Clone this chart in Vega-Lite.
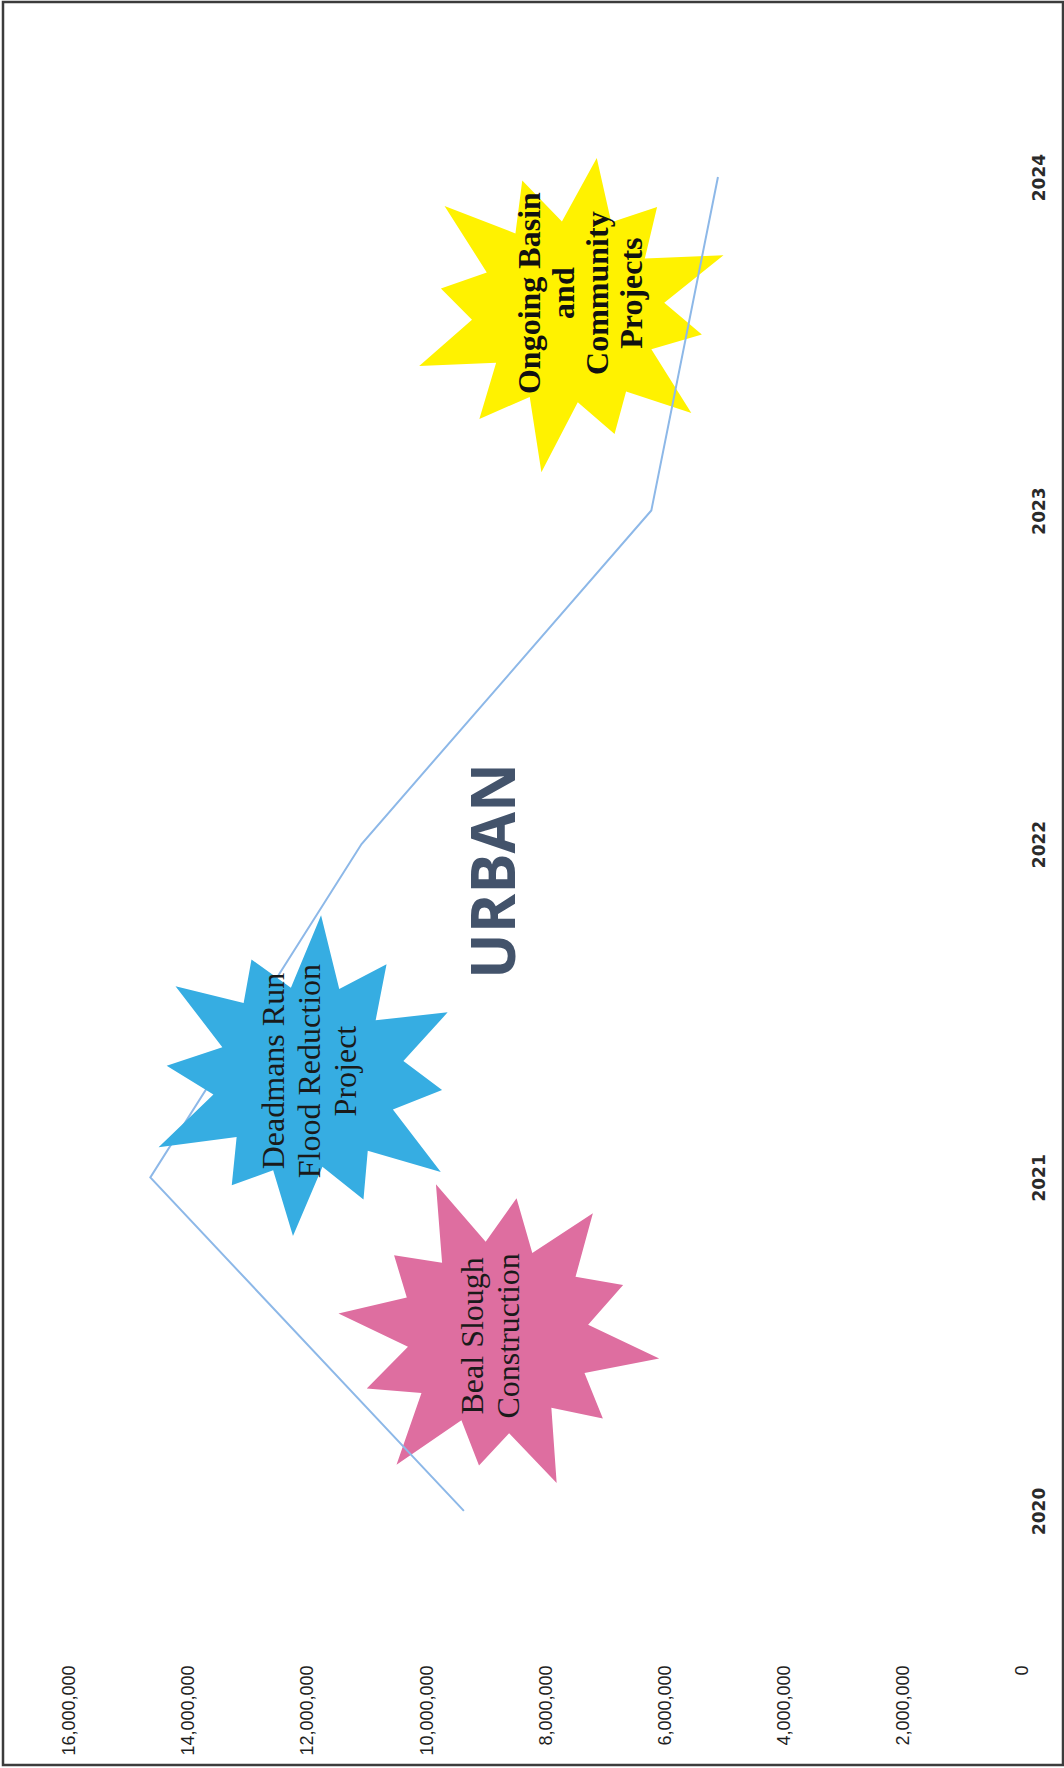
{
  "$schema": "https://vega.github.io/schema/vega-lite/v6.json",
  "width": 1060,
  "height": 1763,
  "padding": {"left": 3, "top": 2, "right": 1, "bottom": 3},
  "background": "white",
  "config": {"view": {"stroke": "#3c3c3c", "strokeWidth": 2.5}},
  "datasets": {
    "line": [
      {"year": 2020, "value": 9380000},
      {"year": 2021, "value": 14650000},
      {"year": 2022, "value": 11100000},
      {"year": 2023, "value": 6230000},
      {"year": 2024, "value": 5110000}
    ],
    "stars": [
      {"star": "Beal Slough", "value": 8820000, "year": 2020.525},
      {"star": "Deadmans Run", "value": 12020000, "year": 2021.298},
      {"star": "Ongoing", "value": 7600000, "year": 2023.598}
    ],
    "notes": [
      {"star": "Beal Slough", "text": "Beal Slough\nConstruction", "value": 9230000, "year": 2020.525},
      {"star": "Deadmans Run", "text": "Deadmans Run\nFlood Reduction\nProject", "value": 12570000, "year": 2021.319},
      {"star": "Ongoing", "text": "Ongoing Basin\nand\nCommunity\nProjects", "value": 8270000, "year": 2023.652}
    ],
    "title": [
      {"text": "URBAN", "value": 8820000, "year": 2021.919}
    ]
  },
  "encoding": {
    "x": {
      "field": "value",
      "type": "quantitative",
      "scale": {"domain": [-689000, 17126000], "reverse": true, "nice": false, "zero": false},
      "axis": {
        "orient": "bottom",
        "values": [0, 2000000, 4000000, 6000000, 8000000, 10000000, 12000000, 14000000, 16000000],
        "format": ",.0f",
        "labelAngle": -90,
        "labelAlign": "right",
        "labelBaseline": "middle",
        "labelPadding": 0,
        "offset": -100,
        "ticks": false,
        "tickSize": 0,
        "domain": false,
        "grid": false,
        "title": null,
        "labelFont": "Liberation Sans",
        "labelFontSize": 18,
        "labelColor": "#1e1e1e",
        "labelFlush": false,
        "labelOverlap": false,
        "labelBound": false
      }
    },
    "y": {
      "field": "year",
      "type": "quantitative",
      "scale": {"domain": [2019.238, 2024.525], "nice": false, "zero": false},
      "axis": {
        "orient": "right",
        "values": [2020, 2021, 2022, 2023, 2024],
        "format": "d",
        "labelAngle": -90,
        "labelAlign": "center",
        "labelBaseline": "middle",
        "labelPadding": 0,
        "offset": -24,
        "ticks": false,
        "tickSize": 0,
        "domain": false,
        "grid": false,
        "title": null,
        "labelFont": "DejaVu Sans",
        "labelFontWeight": "bold",
        "labelFontSize": 17,
        "labelColor": "#2a2a2a",
        "labelFlush": false,
        "labelOverlap": false,
        "labelBound": false
      }
    }
  },
  "layer": [
    {
      "data": {"name": "stars"},
      "transform": [{"filter": {"field": "star", "equal": "Beal Slough"}}],
      "mark": {"type": "point", "shape": "M1,0L0.56,0.15L0.71,0.41L0.389,0.389L0.485,0.84L0.155,0.58L0,0.8L-0.145,0.541L-0.5,0.866L-0.41,0.41L-0.745,0.43L-0.531,0.142L-0.98,0L-0.58,-0.155L-0.693,-0.4L-0.396,-0.396L-0.5,-0.866L-0.15,-0.56L0,-0.85L0.142,-0.531L0.475,-0.823L0.424,-0.424L0.719,-0.415L0.541,-0.145Z", "filled": true, "color": "#DE6EA0", "opacity": 1, "strokeWidth": 0, "size": 107000, "angle": 8}
    },
    {
      "data": {"name": "stars"},
      "transform": [{"filter": {"field": "star", "equal": "Ongoing"}}],
      "mark": {"type": "point", "shape": "M1,0L0.56,0.15L0.71,0.41L0.389,0.389L0.485,0.84L0.155,0.58L0,0.8L-0.145,0.541L-0.5,0.866L-0.41,0.41L-0.745,0.43L-0.531,0.142L-0.98,0L-0.58,-0.155L-0.693,-0.4L-0.396,-0.396L-0.5,-0.866L-0.15,-0.56L0,-0.85L0.142,-0.531L0.475,-0.823L0.424,-0.424L0.719,-0.415L0.541,-0.145Z", "filled": true, "color": "#FFF200", "opacity": 1, "strokeWidth": 0, "size": 107000, "angle": -20}
    },
    {
      "data": {"name": "line"},
      "mark": {"type": "line", "color": "#8DB8E8", "strokeWidth": 2},
      "encoding": {"order": {"field": "year", "type": "quantitative"}}
    },
    {
      "data": {"name": "stars"},
      "transform": [{"filter": {"field": "star", "equal": "Deadmans Run"}}],
      "mark": {"type": "point", "shape": "M1,0L0.56,0.15L0.71,0.41L0.389,0.389L0.485,0.84L0.155,0.58L0,0.8L-0.145,0.541L-0.5,0.866L-0.41,0.41L-0.745,0.43L-0.531,0.142L-0.98,0L-0.58,-0.155L-0.693,-0.4L-0.396,-0.396L-0.5,-0.866L-0.15,-0.56L0,-0.85L0.142,-0.531L0.475,-0.823L0.424,-0.424L0.719,-0.415L0.541,-0.145Z", "filled": true, "color": "#36ADE2", "opacity": 1, "strokeWidth": 0, "size": 107000, "angle": 35}
    },
    {
      "data": {"name": "title"},
      "mark": {"type": "text", "angle": 270, "align": "center", "baseline": "middle", "font": "Open Sans", "fontWeight": "bold", "fontSize": 60, "color": "#43536B"},
      "encoding": {"text": {"field": "text", "type": "nominal"}}
    },
    {
      "data": {"name": "notes"},
      "transform": [{"filter": {"field": "star", "oneOf": ["Beal Slough", "Deadmans Run"]}}],
      "mark": {"type": "text", "angle": 270, "align": "center", "baseline": "middle", "lineBreak": "\n", "lineHeight": 36, "font": "Liberation Serif", "fontSize": 32, "color": "#1a1a1a"},
      "encoding": {"text": {"field": "text", "type": "nominal"}}
    },
    {
      "data": {"name": "notes"},
      "transform": [{"filter": {"field": "star", "equal": "Ongoing"}}],
      "mark": {"type": "text", "angle": 270, "align": "center", "baseline": "middle", "lineBreak": "\n", "lineHeight": 34, "font": "Liberation Serif", "fontWeight": "bold", "fontSize": 32, "color": "#111111"},
      "encoding": {"text": {"field": "text", "type": "nominal"}}
    }
  ]
}
